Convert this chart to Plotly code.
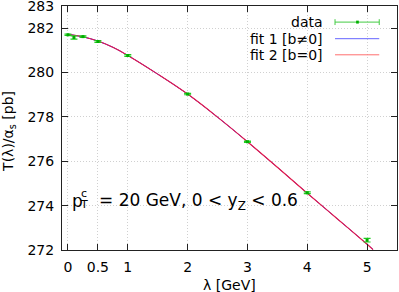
import plotly.graph_objects as go

# data points
lam = [0.0, 0.1, 0.25, 0.5, 1.0, 2.0, 3.0, 4.0, 5.0]
T_val = [281.70, 281.58, 281.62, 281.40, 280.77, 279.03, 276.88, 274.58, 272.44]
T_err = [0.03, 0.07, 0.03, 0.04, 0.04, 0.03, 0.03, 0.04, 0.08]

# fit curves
fit_lam = [0.0, 0.25, 0.5, 0.75, 1.0, 1.5, 2.0, 2.5, 3.0, 3.5, 4.0, 4.5, 5.0, 5.1]
fit1_val = [281.72, 281.61, 281.42, 281.14, 280.77, 279.93, 279.03, 277.99, 276.88, 275.73, 274.56, 273.41, 272.26, 272.02]
fit2_val = [281.72, 281.61, 281.42, 281.14, 280.77, 279.93, 279.03, 277.99, 276.88, 275.73, 274.56, 273.41, 272.26, 272.02]

x_ticks = [0, 0.5, 1, 2, 3, 4, 5]
y_ticks = [272, 274, 276, 278, 280, 282, 283]

FONT = "DejaVu Sans"

fig = go.Figure()
fig.add_trace(go.Scatter(x=fit_lam, y=fit1_val, mode="lines", line=dict(color="#0000ff", width=1, shape="spline"),
                         name="fit 1 [b≠0]", showlegend=False))
fig.add_trace(go.Scatter(x=fit_lam, y=fit2_val, mode="lines", line=dict(color="rgb(235,30,70)", width=1.1, shape="spline"),
                         name="fit 2 [b=0]", showlegend=False))
fig.add_trace(go.Scatter(x=lam, y=T_val, mode="markers",
                         marker=dict(symbol="square", size=3, color="#00b000"),
                         error_y=dict(type="data", array=T_err, color="#22cc22", thickness=1.2, width=3.5),
                         name="data", showlegend=False))

axis_common = dict(showline=True, linecolor="#222222", linewidth=1, mirror="ticks", ticks="inside",
                   ticklen=6, tickcolor="#222222", tickwidth=1, showgrid=True, gridcolor="#d0d0d0",
                   griddash="1px,2px", gridwidth=1, zeroline=False, automargin=False,
                   ticklabeloverflow="allow",
                   tickfont=dict(family=FONT, size=14, color="#000000"))

fig.update_xaxes(range=[-0.1, 5.5], tickmode="array", tickvals=x_ticks, ticktext=[str(v) for v in x_ticks],
                 ticklabelstandoff=4, **axis_common)
fig.update_yaxes(range=[272, 283], tickmode="array", tickvals=y_ticks, ticktext=[str(v) for v in y_ticks],
                 ticklabelstandoff=4, **axis_common)

# axis titles
fig.add_annotation(xref="paper", yref="paper", x=0.5, y=-0.143, text="λ [GeV]", showarrow=False,
                   xanchor="center", yanchor="middle", font=dict(family=FONT, size=14, color="#000000"))
fig.add_annotation(xref="paper", yref="paper", x=-0.159, y=0.487, text="T(λ)/α<sub>s</sub> [pb]", showarrow=False,
                   textangle=-90, xanchor="center", yanchor="middle", font=dict(family=FONT, size=14, color="#000000"))

# manual legend (gnuplot style: text right, sample on the right)
rows = [("data", 0.934), ("fit 1 [b≠0]", 0.866), ("fit 2 [b=0]", 0.800)]
for txt, yy in rows:
    fig.add_annotation(xref="paper", yref="paper", x=0.785, y=yy, text=txt, showarrow=False,
                       xanchor="right", yanchor="middle", font=dict(family=FONT, size=14, color="#000000"))
x0, x1 = 0.815, 0.947
fig.add_shape(type="line", xref="paper", yref="paper", x0=x0, x1=x1, y0=0.934, y1=0.934,
              line=dict(color="#44cc44", width=1))
for xc in (x0, x1):
    fig.add_shape(type="line", xref="paper", yref="paper", x0=xc, x1=xc, y0=0.922, y1=0.946,
                  line=dict(color="#44cc44", width=1))
fig.add_shape(type="rect", xref="paper", yref="paper", x0=0.878, x1=0.886, y0=0.928, y1=0.940,
              line=dict(width=0), fillcolor="#00b000")
fig.add_shape(type="line", xref="paper", yref="paper", x0=x0, x1=x1, y0=0.866, y1=0.866,
              line=dict(color="rgb(100,100,255)", width=1))
fig.add_shape(type="line", xref="paper", yref="paper", x0=x0, x1=x1, y0=0.800, y1=0.800,
              line=dict(color="rgb(255,110,110)", width=1))

# label p_T^c = 20 GeV, 0 < y_Z < 0.6
fig.add_annotation(xref="paper", yref="paper", x=0.023, y=0.2, text="p", showarrow=False,
                   xanchor="left", yanchor="middle", font=dict(family=FONT, size=17, color="#000000"))
fig.add_annotation(xref="paper", yref="paper", x=0.05, y=0.232, text="c", showarrow=False,
                   xanchor="left", yanchor="middle", font=dict(family=FONT, size=11, color="#000000"))
fig.add_annotation(xref="paper", yref="paper", x=0.049, y=0.186, text="T", showarrow=False,
                   xanchor="left", yanchor="middle", font=dict(family=FONT, size=11, color="#000000"))
fig.add_annotation(xref="paper", yref="paper", x=0.103, y=0.2, text="= 20 GeV, 0 < y<sub>Z</sub> < 0.6", showarrow=False,
                   xanchor="left", yanchor="middle", font=dict(family=FONT, size=17, color="#000000"))

fig.update_layout(width=399, height=292, margin=dict(l=62, r=2, t=6, b=42),
                  paper_bgcolor="white", plot_bgcolor="white", showlegend=False)

fig.write_html("out.html", config={"displayModeBar": False},
               post_script="document.body.style.margin='0';document.body.style.padding='0';")
